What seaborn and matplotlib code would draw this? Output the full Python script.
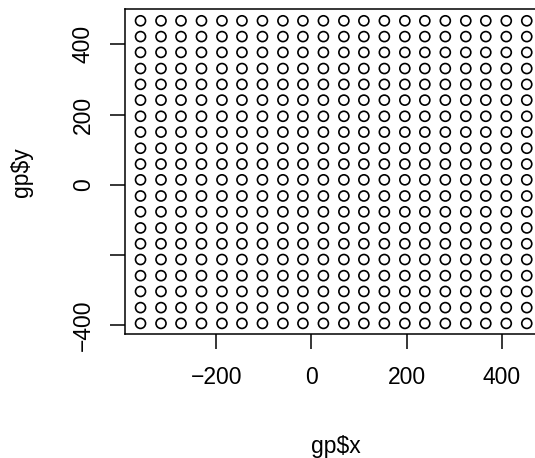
import itertools
import matplotlib
matplotlib.use("Agg")
import matplotlib.pyplot as plt
import seaborn as sns
import pandas as pd

# grid coordinates
x_vals = [-359, -316, -274, -231, -188, -146, -103, -60, -18, 25,
          68, 110, 153, 196, 238, 281, 324, 366, 409, 452]
y_vals = [-395, -350, -304, -259, -213, -168, -123, -77, -32, 14,
          59, 104, 150, 195, 241, 286, 331, 377, 422, 467]
x_ticks = [-200, 0, 200, 400]
x_tick_labels = ["\u2212200", "0", "200", "400"]
y_ticks = [-400, -200, 0, 200, 400]
y_tick_labels = ["\u2212400", "", "0", "200", "400"]

df = pd.DataFrame(list(itertools.product(x_vals, y_vals)), columns=["x", "y"])

sns.set_style("ticks")
plt.rcParams['font.family'] = ['Liberation Sans', 'DejaVu Sans']
plt.rcParams['text.color'] = 'black'
plt.rcParams['axes.labelcolor'] = 'black'

W, H = 535, 458
fig = plt.figure(figsize=(W / 100, H / 100), dpi=100)
left, right, top, bottom = 125, 546, 9, 334.3
ax = fig.add_axes([left / W, 1 - bottom / H, (right - left) / W, (bottom - top) / H])

sns.scatterplot(data=df, x="x", y="y", ax=ax, marker="o", s=52,
                facecolor="none", edgecolor="black", linewidth=1.2, legend=False)

ax.set_xlim(-391.6, 492.4)
ax.set_ylim(-426, 500.6)
ax.set_xticks(x_ticks)
ax.set_xticklabels(x_tick_labels)
ax.set_yticks(y_ticks)
ax.set_yticklabels(y_tick_labels, rotation=90, va="center")

for sp in ax.spines.values():
    sp.set_visible(True)
    sp.set_color("black")
    sp.set_linewidth(1.1)

ax.tick_params(axis="both", direction="out", length=10.8, width=1.1,
               color="black", labelsize=16.5, labelcolor="black",
               bottom=True, left=True, top=False, right=False)
ax.tick_params(axis="x", pad=12)
ax.tick_params(axis="y", pad=11)
ax.set_xlabel("gp$x", fontsize=16.5, labelpad=33, color="black")
ax.set_ylabel("gp$y", fontsize=16.5, labelpad=28, color="black")

fig.savefig("out.png", dpi=100)
